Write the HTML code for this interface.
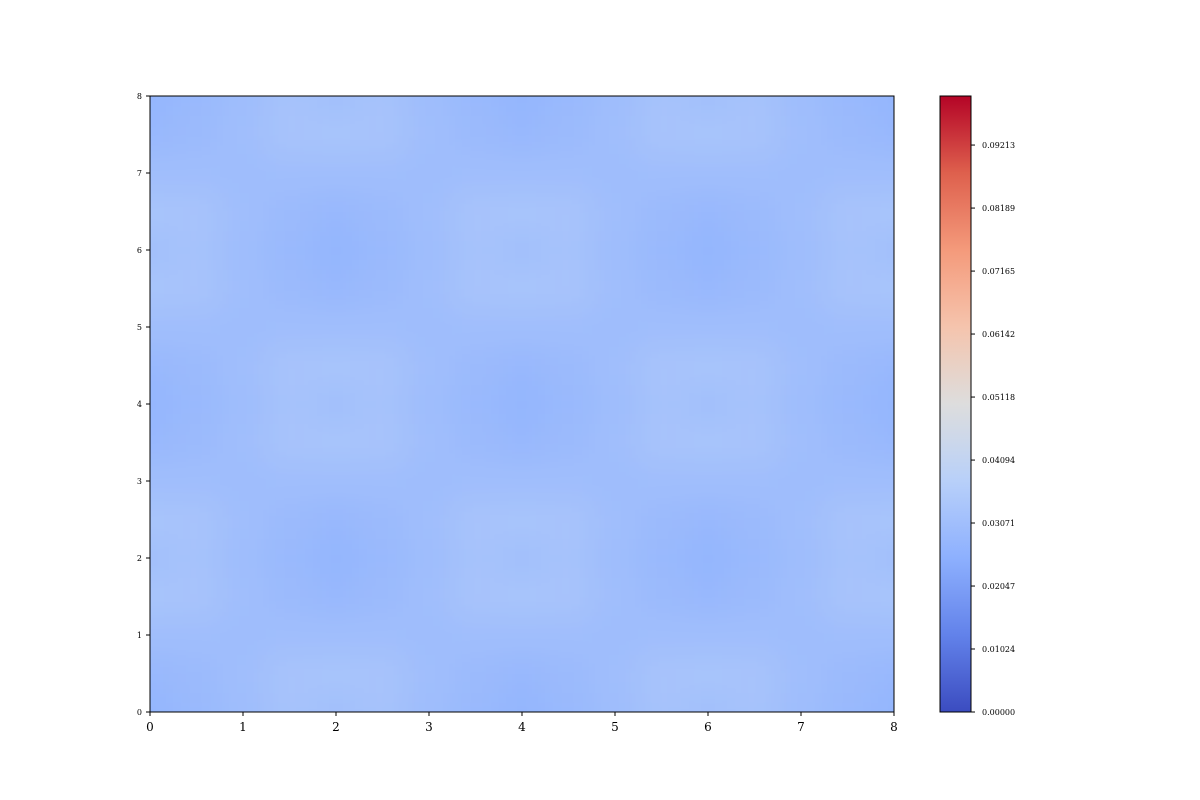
<!DOCTYPE html>
<html><head><meta charset="utf-8"><style>
body{margin:0;background:#fff;}
svg{display:block;font-family:"DejaVu Serif","Liberation Serif",serif;}
</style></head><body>
<svg id="chart" width="1200" height="800" xmlns="http://www.w3.org/2000/svg">
<defs>
<linearGradient id="cbg" x1="0" y1="1" x2="0" y2="0"></linearGradient>
<filter id="blur" filterUnits="userSpaceOnUse" x="50" y="0" width="944" height="800"><feGaussianBlur stdDeviation="14"/></filter>
<clipPath id="clip"><rect x="150" y="96" width="744" height="616"/></clipPath>
</defs>
<g clip-path="url(#clip)"><g id="plot" filter="url(#blur)"></g></g>
<g id="axes"></g>
<g id="cbar"></g>
</svg>
<script>
// grid values (x 0..8 step 0.5, y 0..8 step 0.5), units of 1e-4
const xCoords=[0,0.5,1,1.5,2,2.5,3,3.5,4,4.5,5,5.5,6,6.5,7,7.5,8];
const yCoords=[0,0.5,1,1.5,2,2.5,3,3.5,4,4.5,5,5.5,6,6.5,7,7.5,8];
const rowA=[272,284,302,322,314,322,302,284,272,284,302,322,314,322,302,284,272];
const rowB=[282,290,306,325,327,325,306,290,282,290,306,325,327,325,306,290,282];
const rowC=[306,305,303,305,306,305,303,305,306,305,303,305,306,305,303,305,306];
const rowD=[327,325,306,290,282,290,306,325,327,325,306,290,282,290,306,325,327];
const rowE=[314,322,302,284,272,284,302,322,314,322,302,284,272,284,302,322,314];
const grid=[rowA,rowB,rowC,rowD,rowE,rowD,rowC,rowB,rowA,rowB,rowC,rowD,rowE,rowD,rowC,rowB,rowA];
const xTicks=[0,1,2,3,4,5,6,7,8];
const yTicks=[0,1,2,3,4,5,6,7,8];
const cbTicks=[0,0.01024,0.02047,0.03071,0.04094,0.05118,0.06142,0.07165,0.08189,0.09213];
const cbTickLabels=["0.00000","0.01024","0.02047","0.03071","0.04094","0.05118","0.06142","0.07165","0.08189","0.09213"];
const vmax=0.1001;

const NS="http://www.w3.org/2000/svg";
const X0=150,X1=894,Y0=712,Y1=96;
const sx=v=>X0+(v/8)*(X1-X0), sy=v=>Y0-(v/8)*(Y0-Y1);
const anchors=[[0,59,76,192],[0.125,98,130,234],[0.25,141,176,254],[0.375,184,208,249],[0.5,221,221,221],[0.625,245,196,173],[0.75,244,154,123],[0.875,222,96,77],[1,180,4,38]];
function cmap(t){t=Math.max(0,Math.min(1,t));for(let i=1;i<anchors.length;i++){if(t<=anchors[i][0]){const a=anchors[i-1],b=anchors[i],f=(t-a[0])/(b[0]-a[0]);return`rgb(${Math.round(a[1]+f*(b[1]-a[1]))},${Math.round(a[2]+f*(b[2]-a[2]))},${Math.round(a[3]+f*(b[3]-a[3]))})`;}}}
function mk(tag,attrs,parent){const e=document.createElementNS(NS,tag);for(const k in attrs)e.setAttribute(k,attrs[k]);parent.appendChild(e);return e;}
const plot=document.getElementById('plot');
const last=xCoords.length-1, lastY=yCoords.length-1;
for(let j=0;j<yCoords.length;j++){for(let i=0;i<xCoords.length;i++){
  const xa=xCoords[i]-(i===0?0.8:0.25),xb=xCoords[i]+(i===last?0.8:0.25);
  const ya=yCoords[j]-(j===0?0.8:0.25),yb=yCoords[j]+(j===lastY?0.8:0.25);
  const r=mk('rect',{x:sx(xa),y:sy(yb),width:sx(xb)-sx(xa)+0.6,height:sy(ya)-sy(yb)+0.6,fill:cmap(grid[j][i]*1e-4/vmax)},plot);
  
  
}}
const axes=document.getElementById('axes');
const fr=mk('rect',{x:X0,y:Y1,width:X1-X0,height:Y0-Y1,fill:'none',stroke:'#000','stroke-width':1},axes);

xTicks.forEach(t=>{mk('line',{x1:sx(t),x2:sx(t),y1:Y0,y2:Y0+4,stroke:'#000'},axes);
 const tx=mk('text',{x:sx(t),y:Y0+19,'text-anchor':'middle','font-size':12},axes);tx.textContent=t;
 });
yTicks.forEach(t=>{mk('line',{x1:X0-4,x2:X0,y1:sy(t),y2:sy(t),stroke:'#000'},axes);
 const tx=mk('text',{x:X0-8,y:sy(t)+3,'text-anchor':'end','font-size':8},axes);tx.textContent=t;
 });
const g=document.getElementById('cbg');
for(let k=0;k<=16;k++){mk('stop',{offset:k/16,'stop-color':cmap(k/16)},g);}
const cb=document.getElementById('cbar');
const CX=940,CW=31;
const cr=mk('rect',{x:CX,y:Y1,width:CW,height:Y0-Y1,fill:'url(#cbg)',stroke:'#000','stroke-width':1},cb);

const cy=v=>Y0-(v/vmax)*(Y0-Y1);
cbTicks.forEach((t,i)=>{mk('line',{x1:CX+CW,x2:CX+CW+4,y1:cy(t),y2:cy(t),stroke:'#000'},cb);
 const tx=mk('text',{x:CX+CW+11,y:cy(t)+3,'font-size':8},cb);tx.textContent=cbTickLabels[i];
 });
</script>
</body></html>
